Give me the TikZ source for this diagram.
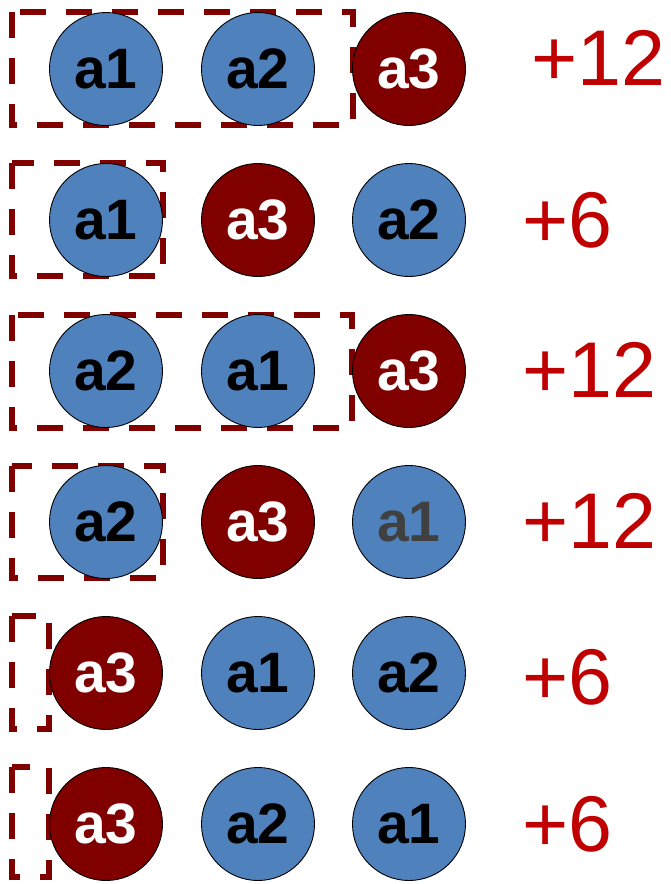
\documentclass[tikz,border=0pt]{standalone}
\usepackage{fontspec}
\setmainfont{Liberation Sans}
\begin{document}
\begin{tikzpicture}[x=1pt,y=-1pt,
  ball/.style={circle,draw=black,line width=0.9pt,minimum size=113pt,inner sep=0pt,
    font=\fontsize{57}{57}\selectfont\bfseries},
  blueball/.style={ball,fill={rgb,255:red,79;green,129;blue,189},text=black},
  redball/.style={ball,fill={rgb,255:red,128;green,0;blue,0},text=white},
  grayball/.style={ball,fill={rgb,255:red,79;green,129;blue,189},text={rgb,255:red,64;green,64;blue,64}},
  dashbox/.style={draw={rgb,255:red,128;green,0;blue,0},line width=6.5pt,dash pattern=on 26pt off 20pt},
  score/.style={anchor=base west,inner sep=0pt,text={rgb,255:red,192;green,0;blue,0},
    font=\fontsize{79}{79}\selectfont}
]
\useasboundingbox (0,0) rectangle (670,884);
% row 1
\draw[dashbox] (12,12) rectangle (353,125);
\node[blueball] (r1a) at (106,69) {a1};
\node[blueball] (r1b) at (258,69) {a2};
\node[redball]  (r1c) at (409,69) {a3};
\node[score] (s1) at (531,85) {+12};
% row 2
\draw[dashbox] (12,163) rectangle (163,276);
\node[blueball] (r2a) at (106,220) {a1};
\node[redball]  (r2b) at (258,220) {a3};
\node[blueball] (r2c) at (409,220) {a2};
\node[score] (s2) at (522,247) {+6};
% row 3
\draw[dashbox] (12,315) rectangle (352,428);
\node[blueball] (r3a) at (106,371) {a2};
\node[blueball] (r3b) at (258,371) {a1};
\node[redball]  (r3c) at (409,371) {a3};
\node[score] (s3) at (522,397) {+12};
% row 4
\draw[dashbox] (12,466) rectangle (163,578);
\node[blueball] (r4a) at (106,522) {a2};
\node[redball]  (r4b) at (258,522) {a3};
\node[grayball] (r4c) at (409,522) {a1};
\node[score] (s4) at (522,548) {+12};
% row 5
\draw[dashbox] (12,616) rectangle (49,729);
\node[redball]  (r5a) at (106,673) {a3};
\node[blueball] (r5b) at (258,673) {a1};
\node[blueball] (r5c) at (409,673) {a2};
\node[score] (s5) at (522,704) {+6};
% row 6
\draw[dashbox] (12,767) rectangle (49,877);
\node[redball]  (r6a) at (106,824) {a3};
\node[blueball] (r6b) at (258,824) {a2};
\node[blueball] (r6c) at (409,824) {a1};
\node[score] (s6) at (522,851) {+6};
\end{tikzpicture}
\end{document}
